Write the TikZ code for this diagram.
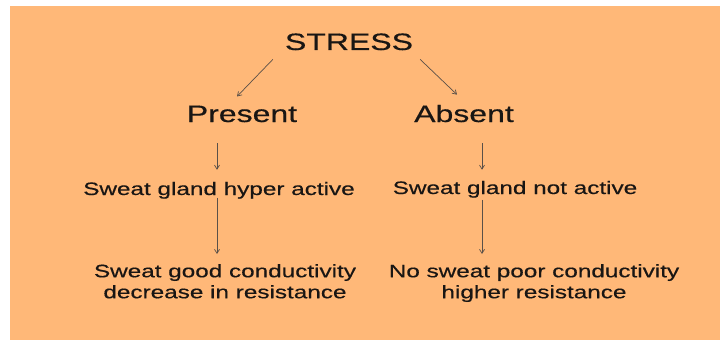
\documentclass[tikz,border=0pt]{standalone}
\usepackage{fontspec}
\setmainfont{Liberation Sans}[FakeStretch=1.35,FakeBold=0.4]
\usetikzlibrary{calc,arrows.meta}
\definecolor{paper}{RGB}{255,184,120}
\definecolor{ink}{RGB}{25,22,20}
\definecolor{arrowgray}{RGB}{90,80,72}

\begin{document}
\begin{tikzpicture}[x=1pt,y=1pt]
    % Node styles
    \tikzset{
      big label/.style={inner sep=0pt,anchor=base,text=ink,font=\fontsize{23.7}{28}\selectfont},
      small label/.style={inner sep=0pt,text=ink,align=center,font=\fontsize{18}{21}\selectfont},
      thin arrow/.style={-{Straight Barb[length=4pt,width=5pt]},arrowgray,line width=0.7pt}
    }

    % --- Background ---
    \useasboundingbox (0,0) rectangle (720,341);
    \fill[paper] (10,1) rectangle (720,335);

    % --- Top level ---
    \node[big label] (stress) at (349,291) {STRESS};
    \node[big label] (present) at (242,219) {Present};
    \node[big label] (absent) at (464,219) {Absent};

    % --- Gland state ---
    \node[small label,anchor=base] (hyper) at (219,146) {Sweat gland hyper active};
    \node[small label,anchor=base] (notact) at (515,147) {Sweat gland not active};

    % --- Outcome ---
    \node[small label,anchor=north] (good) at (225,77) {Sweat good conductivity\\decrease in resistance};
    \node[small label,anchor=north] (poor) at (534,77) {No sweat poor conductivity\\higher resistance};

    % --- Branches from STRESS ---
    \draw[thin arrow] ($(stress.south west)+(-12,-9)$) -- ($(present.north)+(-5,9)$);
    \draw[thin arrow] ($(stress.south east)+(7,-9)$) -- ($(absent.north)+(-7,10)$);

    % --- Left column ---
    \draw[thin arrow] ($(present.south -| hyper.north)+(-2,-21)$) -- ($(hyper.north)+(-2,12)$);
    \draw[thin arrow] ($(hyper.south)+(-2,1)$) -- ($(hyper.south |- good.north)+(-2,10)$);

    % --- Right column ---
    \draw[thin arrow] ($(absent.south -| notact.north)+(-33,-21)$) -- ($(notact.north)+(-33,11)$);
    \draw[thin arrow] ($(notact.south)+(-33,-2)$) -- ($(notact.south |- poor.north)+(-33,10)$);

  \end{tikzpicture}
\end{document}
